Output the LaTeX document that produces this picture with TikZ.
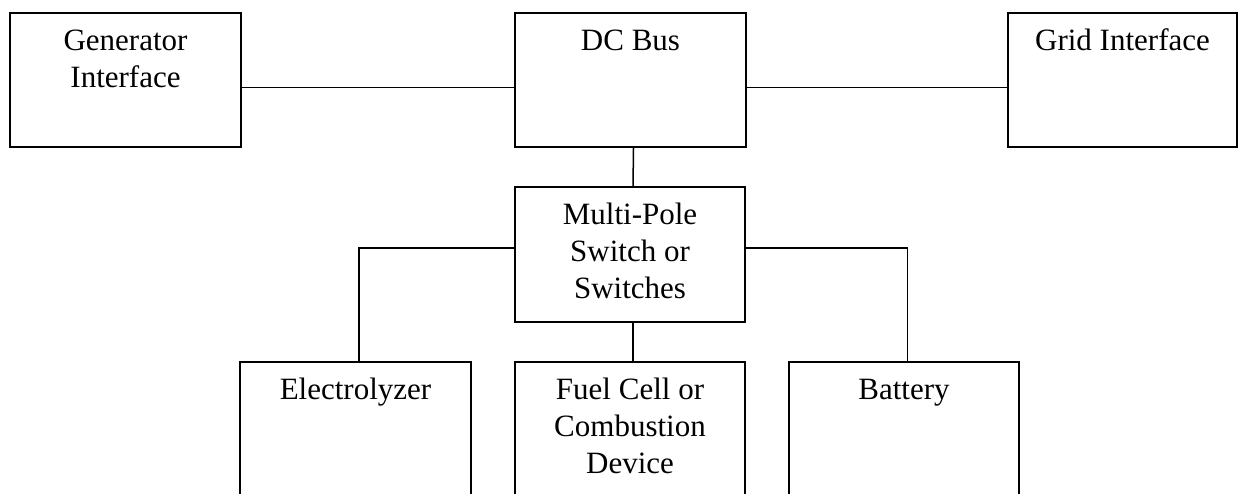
\documentclass[tikz,border=0pt]{standalone}
\usepackage{fontspec}
\setmainfont{Liberation Serif}
\newcommand\boxlines[1]{\vtop{\baselineskip=37pt\lineskiplimit=-100pt\halign{\hfil##\hfil\cr#1\crcr}}}
\begin{document}
\begin{tikzpicture}[x=1pt,y=-1pt,
  blk/.style={draw=black, line width=1.5pt, rectangle, inner sep=0pt, minimum height=134pt},
  txt/.style={anchor=base, inner sep=0pt, font=\fontsize{31}{37}\selectfont},
  wire/.style={draw=black, line width=1.5pt}]
\clip (0,0) rectangle (1238,493);
\fill[white] (0,0) rectangle (1238,493);
% boxes
\node[blk, minimum width=231pt] (gen)  at (125.5,80) {};
\node[blk, minimum width=231pt] (dc)   at (630.5,80) {};
\node[blk, minimum width=229pt] (grid) at (1122.5,80) {};
\node[blk, minimum width=230pt, minimum height=135pt] (mps) at (630,254.5) {};
\node[blk, minimum width=231pt, minimum height=160pt] (elec) at (355.5,442) {};
\node[blk, minimum width=230pt, minimum height=160pt] (fuel) at (630,442) {};
\node[blk, minimum width=230pt, minimum height=160pt] (batt) at (904,442) {};
% texts
\node[txt] (gent) at ([yshift=-38.7pt]gen.north) {\boxlines{Generator\cr Interface}};
\node[txt] (dct) at ([yshift=-38.7pt]dc.north) {\boxlines{DC Bus}};
\node[txt] (gridt) at ([yshift=-38.7pt]grid.north) {\boxlines{Grid Interface}};
\node[txt] (mpst) at ([yshift=-38.7pt]mps.north) {\boxlines{Multi-Pole\cr Switch or\cr Switches}};
\node[txt] (elect) at ([yshift=-38.7pt]elec.north) {\boxlines{Electrolyzer}};
\node[txt] (fuelt) at ([yshift=-38.7pt]fuel.north) {\boxlines{Fuel Cell or\cr Combustion\cr Device}};
\node[txt] (battt) at ([yshift=-38.7pt]batt.north) {\boxlines{Battery}};
% connectors
\draw[wire] ([yshift=-7.7pt]gen.east) -- ([yshift=-7.7pt]dc.west);
\draw[wire] ([yshift=-7.7pt]dc.east) -- ([yshift=-7.7pt]grid.west);
\draw[wire] ([xshift=3pt]dc.south) -- ([xshift=3pt]mps.north);
\draw[wire] ([xshift=3pt]mps.south) -- ([xshift=3pt]fuel.north);
\draw[wire] ([yshift=6.5pt]mps.west) -| ([xshift=3.5pt]elec.north);
\draw[wire] ([yshift=6.5pt]mps.east) -| ([xshift=3.5pt]batt.north);
\end{tikzpicture}
\end{document}
